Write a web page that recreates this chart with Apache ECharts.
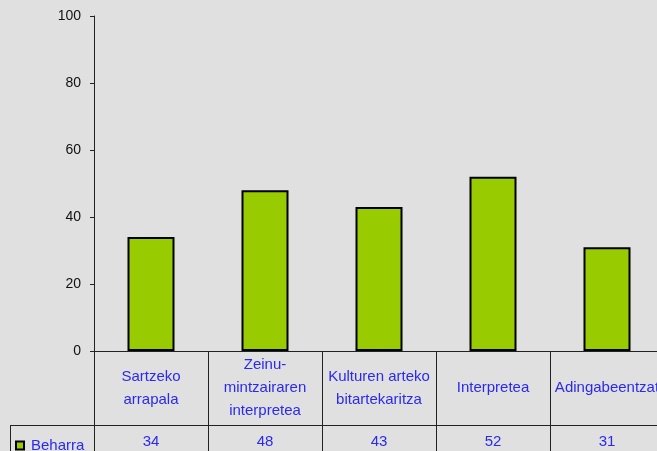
<!DOCTYPE html>
<html>
<head>
<meta charset="utf-8">
<script src="https://cdn.jsdelivr.net/npm/echarts@6/dist/echarts.min.js"></script>
<style>
html,body{margin:0;padding:0;background:#e0e0e0;overflow:hidden;}
#c{width:670px;height:451px;}
</style>
</head>
<body>
<div id="c"></div>
<script>
const categories = ['Sartzeko\narrapala', 'Zeinu-\nmintzairaren\ninterpretea', 'Kulturen arteko\nbitartekaritza', 'Interpretea', 'Adingabeentzat'];
const seriesName = 'Beharra';
const values = [34, 48, 43, 52, 31];
const yTicks = { min: 0, max: 100, interval: 20 };

const blue = '#2a2aee';
const font = 'Liberation Sans, Arial, sans-serif';
const chart = echarts.init(document.getElementById('c'), null, { renderer: 'canvas' });
chart.setOption({
  backgroundColor: '#e0e0e0',
  animation: false,
  textStyle: { fontFamily: font },
  grid: { left: 94, top: 16, bottom: 100, right: 6 },
  legend: {
    data: [seriesName], left: 15, top: 438, padding: 0, icon: 'rect', itemWidth: 8, itemHeight: 8, itemGap: 5,
    textStyle: { color: blue, fontSize: 15, fontFamily: font, padding: [0, 0, 0, 2] }
  },
  xAxis: [{
    type: 'category', data: categories,
    axisLine: { lineStyle: { color: '#222', width: 1 } },
    axisTick: { show: true, length: 100, lineStyle: { color: '#222', width: 1 } },
    axisLabel: { color: blue, fontSize: 15, fontFamily: font, lineHeight: 23, verticalAlign: 'middle', margin: 37, interval: 0 }
  }, {
    type: 'category', data: categories, position: 'bottom',
    axisLine: { show: false }, axisTick: { show: false },
    axisLabel: { color: blue, fontSize: 15, fontFamily: font, verticalAlign: 'middle', margin: 91, interval: 0,
      formatter: function (v, i) { return String(values[i]); } }
  }],
  yAxis: {
    type: 'value', min: yTicks.min, max: yTicks.max, interval: yTicks.interval,
    splitLine: { show: false },
    axisLine: { show: true, lineStyle: { color: '#222', width: 1 } },
    axisTick: { show: true, length: 4, lineStyle: { color: '#222' } },
    axisLabel: { color: '#111', fontSize: 14, fontFamily: font, margin: 13 }
  },
  series: [{
    name: seriesName, type: 'bar', data: values, barWidth: 47,
    itemStyle: { color: '#99cc00', borderColor: '#000', borderWidth: 2 }
  }],
  graphic: [
    { type: 'line', shape: { x1: 10, y1: 425.5, x2: 670, y2: 425.5 }, style: { stroke: '#222', lineWidth: 1 } },
    { type: 'line', shape: { x1: 10.5, y1: 425, x2: 10.5, y2: 451 }, style: { stroke: '#222', lineWidth: 1 } }
  ]
});
</script>
</body>
</html>
